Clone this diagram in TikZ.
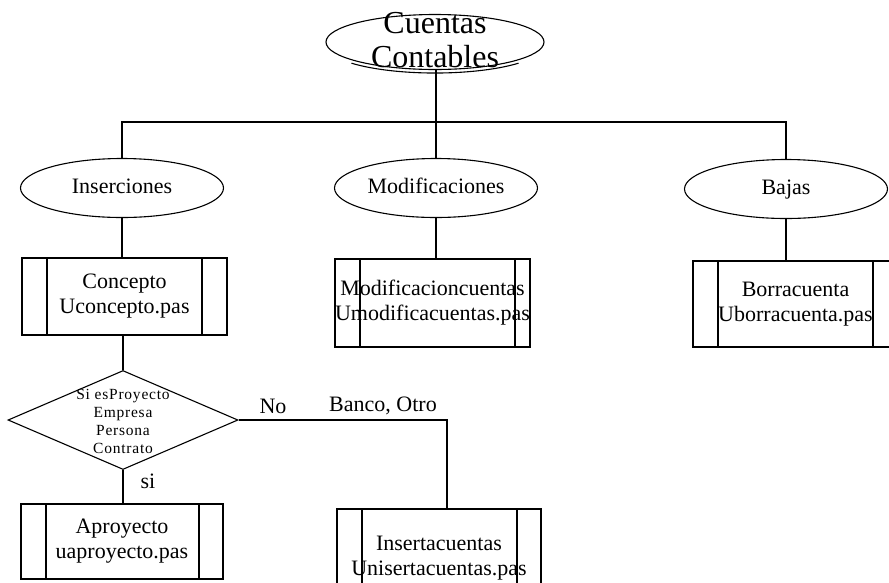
\documentclass[tikz,border=0pt]{standalone}
\usepackage{fontspec}
\setmainfont{Liberation Serif}
\newfontfamily\diafont[LetterSpace=5]{Liberation Serif}
\usetikzlibrary{shapes.geometric}

\tikzset{
  base/.style={line width=1.1pt, draw=black},
  txt/.style={font=\fontsize{22}{25}\selectfont, align=center, inner sep=0pt},
  module/.style={base, ellipse, minimum width=203pt, minimum height=59pt,
    inner sep=0pt, text height=15pt, text depth=5pt,
    font=\fontsize{22}{25}\selectfont},
  procbox/.style n args={3}{base, rectangle, inner sep=0pt,
    minimum width=#1, minimum height=#2, align=center,
    font=\fontsize{22}{25}\selectfont,
    path picture={
      \draw[line width=1.1pt]
        ([xshift=25pt]path picture bounding box.north west) --
        ([xshift=25pt]path picture bounding box.south west);
      \draw[line width=1.1pt]
        ([xshift=-#3]path picture bounding box.north east) --
        ([xshift=-#3]path picture bounding box.south east);
    }},
  link/.style={line width=1.1pt},
}

\begin{document}
\begin{tikzpicture}[x=1pt, y=-1pt]
  \useasboundingbox[fill=white] (0,0) rectangle (889,582);

  % root module, its lower rim drawn twice
  \node[base, ellipse, minimum width=218pt, minimum height=55pt, inner sep=0pt]
    (root) at (435,42) {};
  \draw[line width=1.1pt] (518.5,63.2) arc[start angle=40, end angle=140,
    x radius=109, y radius=27.5];
  \node[font=\fontsize{32}{34}\selectfont, align=center, inner sep=0pt]
    (roottext) at (435,40) {Cuentas\\Contables};

  % second level
  \node[module] (ins) at (122,188) {Inserciones};
  \node[module] (mod) at (436,188) {Modificaciones};
  \node[module] (baj) at (786,189) {Bajas};

  % program boxes
  \node[procbox={205pt}{77pt}{25pt}] (con) at (124.5,296.5)
    {Concepto\\Uconcepto.pas};
  \node[procbox={195pt}{88pt}{15pt}] (modbox) at (432.5,303)
    {Modificacioncuentas\\Umodificacuentas.pas};
  \node[procbox={205pt}{86pt}{25pt}] (bajbox) at (795.5,304)
    {Borracuenta\\Uborracuenta.pas};

  % decision
  \node[base, diamond, minimum width=230pt, minimum height=99pt, inner sep=0pt]
    (dia) at (123,420) {};
  \node[font=\diafont\fontsize{15.5}{18}\selectfont, align=center,
    inner sep=0pt] (diatext) at (123,421)
    {Si esProyecto\\Empresa\\Persona\\Contrato};

  \node[procbox={202pt}{75pt}{24pt}] (apr) at (122,541.5)
    {Aproyecto\\uaproyecto.pas};
  \node[procbox={204pt}{98pt}{24pt}] (insbox) at (439,558)
    {Insertacuentas\\Unisertacuentas.pas};

  % connectors
  \coordinate (J) at (436,122);
  \coordinate (corner) at (447,420);
  \draw[link] (root.south -| J) -- (J);
  \draw[link] (ins.north) -- (ins.north |- J) -- (baj.north |- J) -- (baj.north);
  \draw[link] (mod.north) -- (mod.north |- J);
  \draw[link] (ins.south) -- (ins.south |- con.north);
  \draw[link] (mod.south) -- (mod.south |- modbox.north);
  \draw[link] (baj.south) -- (baj.south |- bajbox.north);
  \draw[link] (dia.north |- con.south) -- (dia.north);
  \draw[link] (dia.south) -- (dia.south |- apr.north);
  \draw[link] (dia.east) -- (corner) -- (corner |- insbox.north);

  % branch labels
  \node[txt] (lno) at (273,406) {No};
  \node[txt] (lother) at (383,406) {Banco, Otro};
  \node[txt] (lsi) at (148,481) {si};
\end{tikzpicture}
\end{document}
